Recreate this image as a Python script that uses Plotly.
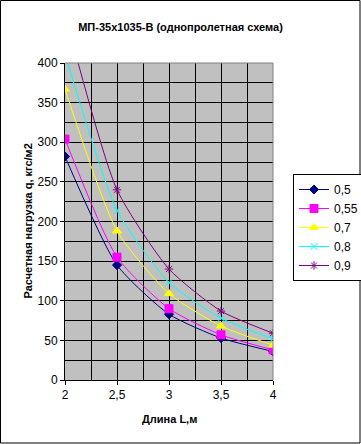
import plotly.graph_objects as go

lengths = [2, 2.5, 3, 3.5, 4]
series_names = ["0,5", "0,55", "0,7", "0,8", "0,9"]
q_05 = [282, 145, 83, 53, 36]
q_055 = [304, 155, 90, 57, 38]
q_07 = [367, 188, 109, 68, 44]
q_08 = [412, 214, 123, 78, 52]
q_09 = [462, 240, 140, 87, 59]
y_tick_vals = [0, 50, 100, 150, 200, 250, 300, 350, 400]
x_tick_vals = [2, 2.5, 3, 3.5, 4]

colors = ["#000080", "#FF00FF", "#FFFF00", "#00FFFF", "#800080"]
symbols = ["diamond", "square", "triangle-up", "x-thin-open", "asterisk-open"]
sizes = [7, 8, 8, 7, 7]
series = [q_05, q_055, q_07, q_08, q_09]

fig = go.Figure()
for name, vals, c, s, sz in zip(series_names, series, colors, symbols, sizes):
    fig.add_trace(go.Scatter(
        x=lengths, y=vals, name=name, mode="lines+markers",
        line=dict(color=c, width=1, shape="spline", smoothing=0.6),
        marker=dict(symbol=s, size=sz, color=c, line=dict(color=c, width=1)),
    ))

L, R, T, B = 65, 88, 63, 64
W, H = 361, 444
pw, ph = W - L - R, H - T - B

fig.update_layout(
    width=W, height=H,
    margin=dict(l=L, r=R, t=T, b=B, autoexpand=False),
    paper_bgcolor="white", plot_bgcolor="#C0C0C0",
    separators=", ",
    font=dict(family="Liberation Sans, Arial, sans-serif", size=12, color="black"),
    title=dict(text="<b>МП-35x1035-В (однопролетная схема)</b>",
               x=0.5, xanchor="center", y=1 - 27 / H, yanchor="middle",
               font=dict(size=11)),
    showlegend=True,
    legend=dict(x=(293 - L) / pw, y=(380 - 174) / ph, xanchor="left", yanchor="top",
                bordercolor="black", borderwidth=1, bgcolor="white",
                font=dict(size=12), itemwidth=30, tracegroupgap=0),
    xaxis=dict(range=[2, 4], tickvals=x_tick_vals, showline=True, linecolor="black",
               ticks="outside", ticklen=4, tickcolor="black", automargin=False,
               showgrid=True, gridcolor="black", gridwidth=1,
               minor=dict(dtick=0.25, showgrid=True, gridcolor="black", gridwidth=1),
               zeroline=False),
    yaxis=dict(range=[0, 400], tickvals=y_tick_vals, showline=True, linecolor="black",
               ticks="outside", ticklen=4, tickcolor="black", automargin=False,
               showgrid=True, gridcolor="black", gridwidth=1,
               minor=dict(dtick=25, showgrid=True, gridcolor="black", gridwidth=1),
               zeroline=False),
    annotations=[
        dict(text="<b>Длина L,м</b>", xref="paper", yref="paper",
             x=0.5, y=(380 - 419) / ph, xanchor="center", yanchor="middle",
             showarrow=False, font=dict(size=11)),
        dict(text="<b>Расчетная нагрузка q, кгс/м2</b>", xref="paper", yref="paper",
             x=(27 - L) / pw, y=0.5, xanchor="center", yanchor="middle",
             textangle=-90, showarrow=False, font=dict(size=11)),
    ],
    shapes=[
        dict(type="line", xref="paper", yref="paper", x0=0, x1=1, y0=1, y1=1,
             line=dict(color="#808080", width=1), layer="above"),
        dict(type="line", xref="paper", yref="paper", x0=1, x1=1, y0=0, y1=1,
             line=dict(color="#808080", width=1), layer="above"),
        dict(type="rect", xref="paper", yref="paper",
             x0=(-L + 0.5) / pw, x1=(pw + R - 1) / pw,
             y0=(-B + 1) / ph, y1=(ph + T - 0.5) / ph,
             line=dict(color="black", width=1), layer="above"),
    ],
)

fig.write_html("out.html", config={"displayModeBar": False},
               post_script="document.body.style.margin='0';document.body.style.overflow='hidden';")
